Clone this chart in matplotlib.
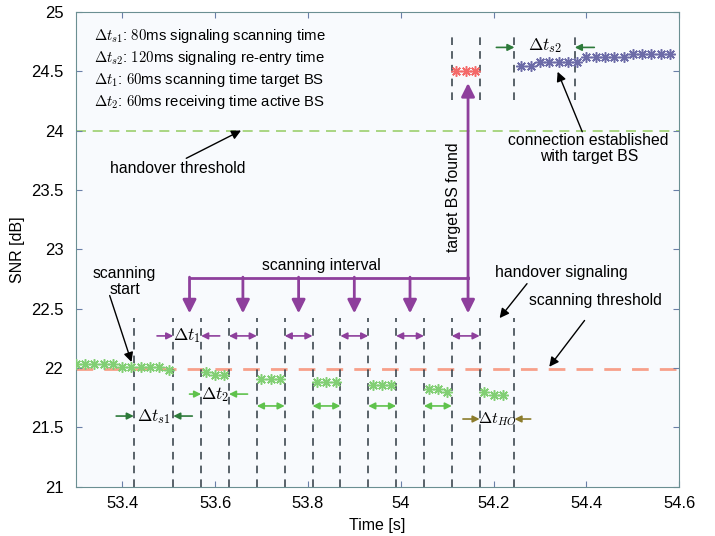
import numpy as np
import matplotlib.pyplot as plt

plt.rcParams['font.family'] = ['Liberation Sans', 'DejaVu Sans']
plt.rcParams['mathtext.fontset'] = 'cm'

# SNR samples of the active BS (green), target BS scanned (red), target BS after handover (blue)
active_t = [53.30, 53.32, 53.34, 53.36, 53.38, 53.40, 53.42, 53.44, 53.46, 53.48, 53.50,
            53.58, 53.60, 53.62, 53.70, 53.72, 53.74, 53.82, 53.84, 53.86,
            53.94, 53.96, 53.98, 54.06, 54.08, 54.10, 54.18, 54.20, 54.22]
active_snr = [22.03, 22.03, 22.03, 22.03, 22.03, 22.01, 22.01, 22.01, 22.01, 22.01, 21.98,
              21.97, 21.94, 21.94, 21.91, 21.91, 21.91, 21.88, 21.88, 21.88,
              21.86, 21.86, 21.86, 21.82, 21.82, 21.795, 21.795, 21.77, 21.77]
scan_t = [54.12, 54.14, 54.16]
scan_snr = [24.50, 24.50, 24.50]
target_t = [54.26, 54.28, 54.30, 54.32, 54.34, 54.36, 54.38, 54.40, 54.42, 54.44,
            54.46, 54.48, 54.50, 54.52, 54.54, 54.56, 54.58]
target_snr = [24.545, 24.545, 24.58, 24.58, 24.58, 24.58, 24.58, 24.62, 24.62, 24.62,
              24.62, 24.62, 24.645, 24.645, 24.645, 24.645, 24.645]

handover_threshold = 24.0
scanning_threshold = 21.99

# time markers
low_marks = [53.425, 53.51, 53.57, 53.63, 53.69, 53.75, 53.81, 53.87, 53.93, 53.99,
             54.05, 54.11, 54.17, 54.245]
high_marks = [54.11, 54.17, 54.245, 54.375]
scan_windows = [(53.63, 53.69), (53.75, 53.81), (53.87, 53.93), (53.99, 54.05), (54.11, 54.17)]
recv_windows = [(53.69, 53.75), (53.81, 53.87), (53.93, 53.99), (54.05, 54.11)]
interval_centres = [53.545, 53.66, 53.78, 53.90, 54.02, 54.145]

legend_lines = [r'$\Delta t_{s1}$: $80$ms signaling scanning time',
                r'$\Delta t_{s2}$: $120$ms signaling re-entry time',
                r'$\Delta t_1$: $60$ms scanning time target BS',
                r'$\Delta t_2$: $60$ms receiving time active BS']

purple = '#8e3f9c'
lgreen = '#5fc24c'
dgreen = '#2d7a3a'
olive = '#8c7c2c'
dash_col = '#2e3a42'
fs = 11.3

fig = plt.figure(figsize=(7.15, 5.36), dpi=100)
ax = fig.add_axes([0.106, 0.092, 0.844, 0.886])
ax.set_facecolor('#f8fafd')

# thresholds
ax.axhline(handover_threshold, color='#9ccf6e', lw=1.2, ls=(0, (6, 4)), zorder=1)
ax.axhline(scanning_threshold, color='#f7a08a', lw=2.0, ls=(0, (6, 4)), zorder=1)

# dashed time markers
ax.vlines(low_marks, 21, 22.42, colors=dash_col, lw=1.1, linestyles=(0, (5, 4)), zorder=2)
ax.vlines(high_marks, 24.26, 24.80, colors=dash_col, lw=1.1, linestyles=(0, (5, 4)), zorder=2)

# samples
star = (8, 2, 0)
ax.plot(active_t, active_snr, ls='none', marker=star, ms=7.5, mew=1.1, color='#82cf74', zorder=3)
ax.plot(scan_t, scan_snr, ls='none', marker=star, ms=7.5, mew=1.1, color='#f46a6a', zorder=3)
ax.plot(target_t, target_snr, ls='none', marker=star, ms=7.5, mew=1.1, color='#6d6ca8', zorder=3)


def arrow(xy, xytext, color, lw=1.2, ms=10, style='-|>'):
    ax.annotate('', xy=xy, xytext=xytext,
                arrowprops=dict(arrowstyle=style, color=color, lw=lw, mutation_scale=ms,
                                shrinkA=0, shrinkB=0))


# scanning interval bracket
ax.plot([interval_centres[0], interval_centres[-1]], [22.76, 22.76], color=purple, lw=2)
for c in interval_centres:
    arrow((c, 22.46), (c, 22.765), purple, lw=2, ms=20)
arrow((interval_centres[-1], 24.40), (interval_centres[-1], 22.75), purple, lw=2, ms=20)
ax.text(53.83, 22.86, 'scanning interval', ha='center', va='center', fontsize=fs)
ax.text(54.113, 23.44, 'target BS found', ha='center', va='center', rotation=90, fontsize=fs)

# delta t1 / scanning windows
arrow((53.51, 22.27), (53.475, 22.27), purple)
arrow((53.57, 22.27), (53.61, 22.27), purple)
ax.text(53.54, 22.27, r'$\Delta t_1$', ha='center', va='center', fontsize=12.5)
for a, b in scan_windows:
    arrow((a, 22.27), (b, 22.27), purple, style='<|-|>')

# delta t2 / receiving windows
arrow((53.57, 21.78), (53.545, 21.78), lgreen)
arrow((53.63, 21.78), (53.67, 21.78), lgreen)
ax.text(53.60, 21.78, r'$\Delta t_2$', ha='center', va='center', fontsize=12.5)
for a, b in recv_windows:
    arrow((a, 21.68), (b, 21.68), lgreen, style='<|-|>')

# delta ts1
arrow((53.425, 21.595), (53.387, 21.595), dgreen)
arrow((53.51, 21.595), (53.551, 21.595), dgreen)
ax.text(53.468, 21.59, r'$\Delta t_{s1}$', ha='center', va='center', fontsize=12.5)

# delta tHO
arrow((54.17, 21.57), (54.134, 21.57), olive)
arrow((54.245, 21.57), (54.28, 21.57), olive)
ax.text(54.207, 21.565, r'$\Delta t_{HO}$', ha='center', va='center', fontsize=11.5)

# delta ts2
arrow((54.245, 24.70), (54.206, 24.70), dgreen)
arrow((54.375, 24.70), (54.417, 24.70), dgreen)
ax.text(54.31, 24.72, r'$\Delta t_{s2}$', ha='center', va='center', fontsize=12.5)

# black annotations
ax.text(53.52, 23.68, 'handover threshold', ha='center', va='center', fontsize=fs)
arrow((53.656, 24.0), (53.538, 23.766), 'k', lw=1, ms=14)
ax.text(54.405, 23.85, 'connection established\nwith target BS', ha='center', va='center',
        fontsize=fs, linespacing=1.1)
arrow((54.338, 24.495), (54.391, 23.99), 'k', lw=1, ms=14)
ax.text(53.405, 22.73, 'scanning\nstart', ha='center', va='center', fontsize=fs,
        linespacing=1.1)
arrow((53.42, 22.05), (53.373, 22.61), 'k', lw=1, ms=14)
ax.text(54.347, 22.80, 'handover signaling', ha='center', va='center', fontsize=fs)
arrow((54.213, 22.42), (54.272, 22.71), 'k', lw=1, ms=14)
ax.text(54.42, 22.57, 'scanning threshold', ha='center', va='center', fontsize=fs)
arrow((54.32, 22.01), (54.396, 22.40), 'k', lw=1, ms=14)

for i, line in enumerate(legend_lines):
    ax.text(53.34, 24.795 - i * 0.185, line, ha='left', va='center', fontsize=10.7)

ax.set_xlim(53.3, 54.6)
ax.set_ylim(21, 25)
ax.set_xticks(np.arange(53.4, 54.61, 0.2))
ax.set_xticklabels(['53.4', '53.6', '53.8', '54', '54.2', '54.4', '54.6'])
ax.set_yticks(np.arange(21, 25.01, 0.5))
ax.set_yticklabels(['21', '21.5', '22', '22.5', '23', '23.5', '24', '24.5', '25'])
ax.tick_params(direction='in', length=4, top=True, right=True, labelsize=12,
               color='#6a7fa8')
ax.tick_params(axis='x', pad=7)
ax.tick_params(axis='y', pad=9)
for s in ax.spines.values():
    s.set_color('#6b8f92')
ax.set_xlabel('Time [s]', fontsize=11.5, labelpad=5)
ax.set_ylabel('SNR [dB]', fontsize=11.5)

fig.savefig('out.png', dpi=100)
